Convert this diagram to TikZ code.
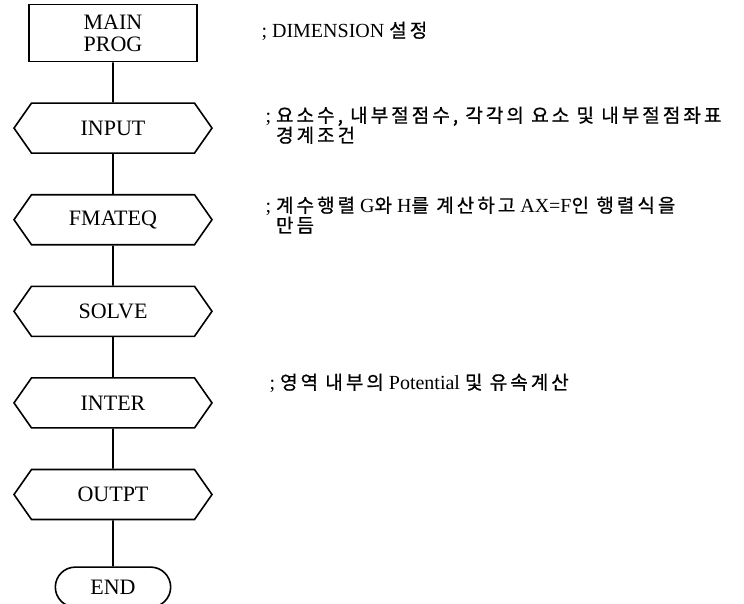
\documentclass[tikz,border=0pt]{standalone}
\usepackage{fontspec}
\setmainfont{Liberation Serif}
\newfontfamily\kr[Scale=0.95, LetterSpace=16, FakeBold=0.8]{Noto Sans CJK KR}
\usetikzlibrary{shapes.symbols, shapes.misc, positioning}
\tikzset{
        node distance=40pt, % gap between two blocks of the chart
        every node/.style={font=\fontsize{22}{22}\selectfont},
        prog/.style={draw, line width=1.6pt, minimum width=168pt, minimum height=57pt, inner sep=0pt, align=center}, % main program box
        routine/.style={draw, line width=1.6pt, signal, signal to=east and west, signal pointer angle=110,
                minimum width=198pt, minimum height=50pt, inner sep=0pt}, % subroutine blocks
        endbox/.style={draw, line width=1.6pt, rounded rectangle, minimum width=122pt, minimum height=40pt},
        note/.style={anchor=west, align=left, font=\fontsize{20}{20}\selectfont}, % comments on the right
        link/.style={line width=1.6pt},
}

\begin{document}
\begin{tikzpicture}[x=1pt, y=-1pt]
      \useasboundingbox (0,0) rectangle (744,603);
      \node[prog] (main) at (113,33) {MAIN\\PROG};
      \node[routine, below=of main] (input) {INPUT};
      \node[routine, below=of input] (fmateq) {FMATEQ};
      \node[routine, below=of fmateq] (solve) {SOLVE};
      \node[routine, below=of solve] (inter) {INTER};
      \node[routine, below=of inter] (outpt) {OUTPT};
      \node[endbox, below=46pt of outpt] (end) {END};
      \foreach \a/\b in {main/input, input/fmateq, fmateq/solve, solve/inter, inter/outpt, outpt/end}
         \draw[link] (\a) -- (\b);
      % comments
      \node[note] (dimnote) at (258,31) {; DIMENSION {\kr 설정}};
      \node[note] (inputnote) at (262,126) {; {\kr 요소수, 내부절점수, 각각의 요소 및 내부절점좌표}\\\phantom{;\ }{\kr 경계조건}};
      \node[note] (fmateqnote) at (262,216) {; {\kr 계수행렬} G{\kr 와} H{\kr 를 계산하고} AX=F{\kr 인 행렬식을}\\\phantom{;\ }{\kr 만듬}};
      \node[note] (internote) at (266,383) {; {\kr 영역 내부의} Potential {\kr 및 유속계산}};
\end{tikzpicture}
\end{document}
